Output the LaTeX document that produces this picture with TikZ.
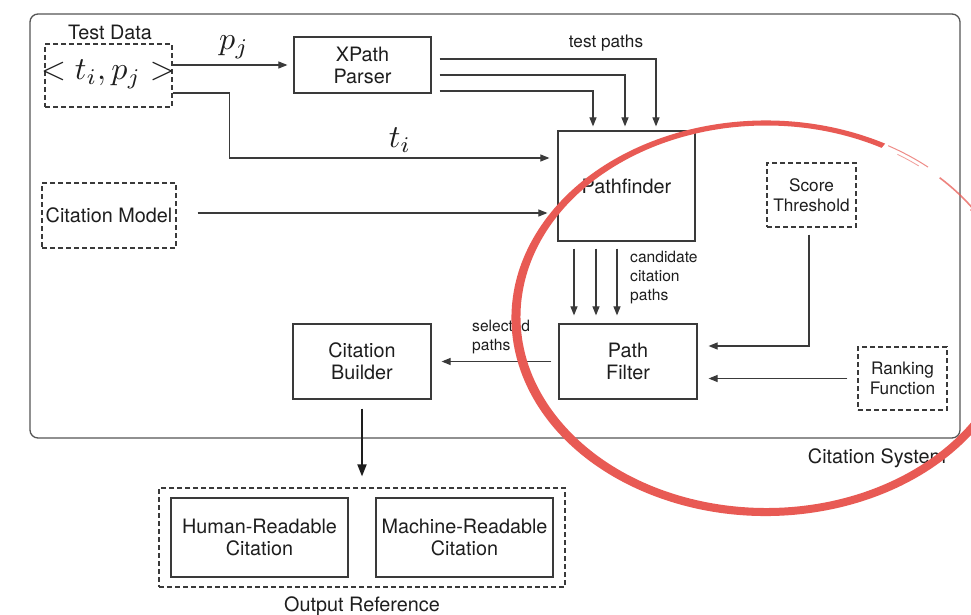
\documentclass[tikz,border=0pt]{standalone}
\usepackage{fontspec}
\usepackage{graphicx}
\setmainfont{TeX Gyre Heros}
\usetikzlibrary{arrows.meta,calc}

\definecolor{ink}{HTML}{1E1E1E}
\definecolor{edge}{HTML}{3A3A3A}
\definecolor{frame}{HTML}{555555}
\definecolor{brush}{RGB}{232,90,84}

\newcommand\fsmain{\fontsize{19.8}{22}\selectfont}
\newcommand\fsmid{\fontsize{17.2}{20}\selectfont}
\newcommand\fssmall{\fontsize{15.6}{19}\selectfont}
% math set at 10pt and enlarged, so the size does not depend on the node font
\newcommand\bigmath[1]{{\fontsize{10}{12}\selectfont\scalebox{3.2}{$#1$}}}

\begin{document}
\begin{tikzpicture}[x=1pt,y=-1pt,
  every node/.style={text=ink, inner sep=0pt},
  box/.style={draw=edge, line width=1.2pt, align=center, font=\fsmain},
  dashbox/.style={box, dash pattern=on 5pt off 3pt},
  smallbox/.style={dashbox, font=\fsmid},
  conn/.style={draw=edge, line width=1.1pt},
  arr/.style={conn, -{Triangle[length=9pt,width=7pt]}},
  bigarr/.style={draw=ink, line width=1.8pt, -{Triangle[length=12pt,width=9pt]}}]

\fill[white] (0,0) rectangle (971,615);
\useasboundingbox (0,0) rectangle (971,615);
\clip (0,0) rectangle (971,615);

% enclosing system frame
\node[draw=frame, line width=1.3pt, rounded corners=8pt,
      minimum width=930pt, minimum height=424pt] (sys) at (495,226) {};
\node[font=\fsmain] (syslbl) at (877,458) {Citation System};

% inputs
\node[font=\fsmain] (testlbl) at (110,32) {Test Data};
\node[dashbox, minimum width=127pt, minimum height=63pt] (testdata) at (108.5,75.5) {};
\node (tuple) at (108,74) {\bigmath{<t_i,p_j>}};
\node[dashbox, minimum width=134pt, minimum height=65pt] (citemodel) at (109,215.5) {Citation Model};
\node[smallbox, minimum width=89pt, minimum height=64pt] (score) at (811.5,195) {Score\\Threshold};
\node[smallbox, minimum width=89pt, minimum height=63pt] (ranking) at (902.5,378.5) {Ranking\\Function};

% processing blocks
\node[box, minimum width=137pt, minimum height=56pt] (xpath) at (362.5,65) {XPath\\Parser};
\node[box, minimum width=137pt, minimum height=110pt] (pathfinder) at (626.5,186) {Pathfinder};
\node[box, minimum width=138pt, minimum height=75pt] (pathfilter) at (628,361.5) {Path\\Filter};
\node[box, minimum width=138pt, minimum height=75pt] (builder) at (362,361.5) {Citation\\Builder};

% output
\node[dashbox, minimum width=406pt, minimum height=99pt] (outref) at (362,537.5) {};
\node[box, minimum width=177pt, minimum height=79pt] (human) at (259.5,537.5) {Human-Readable\\Citation};
\node[box, minimum width=177pt, minimum height=79pt] (machine) at (464.5,537.5) {Machine-Readable\\Citation};
\node[font=\fsmain] (outlbl) at (362,606) {Output Reference};

% connectors
\draw[arr, shorten >=6pt] (testdata.east |- xpath.west) -- (xpath.west);
\node (pjlbl) at (234,47) {\bigmath{p_j}};

\draw[arr, shorten >=8pt] ([yshift=-17.5pt]testdata.east) -- ++(57,0)
      |- ([yshift=28pt]pathfinder.west);
\node (tilbl) at (400,140) {\bigmath{t_i}};

\draw[arr, shorten <=21pt, shorten >=10pt] (citemodel.east |- 0,213) -- (pathfinder.west |- 0,213);

\draw[arr, shorten <=8pt, shorten >=4pt] ([yshift=6pt]xpath.east) -| ([xshift=29.5pt]pathfinder.north);
\draw[arr, shorten <=8pt, shorten >=4pt] ([yshift=-10pt]xpath.east) -| ([xshift=-1.5pt]pathfinder.north);
\draw[arr, shorten <=8pt, shorten >=4pt] ([yshift=-26pt]xpath.east) -| ([xshift=-33.5pt]pathfinder.north);
\node[font=\fsmid] (tplbl) at (606,43) {test paths};

\foreach \dx in {-52.5,-30.5,-9.5}
  \draw[arr, shorten <=7pt, shorten >=8pt] ([xshift=\dx pt]pathfinder.south) -- ([xshift=\dx pt]pathfinder.south |- pathfilter.north);
\node[font=\fssmall, align=left, anchor=west] (candlbl) at (630,278) {candidate\\citation\\paths};

\draw[arr, shorten <=7pt, shorten >=11pt] ([xshift=-2.5pt]score.south) |- ([yshift=15.5pt]pathfilter.east);
\draw[arr, shorten <=10pt, shorten >=11pt] (ranking.west) -- (ranking.west -| pathfilter.east);

\draw[arr, shorten <=7pt, shorten >=10pt] (pathfilter.west) -- (builder.east);
\node[font=\fssmall, align=left, anchor=west] (sellbl) at (472,337.5) {selected\\paths};

\draw[bigarr, shorten <=9pt, shorten >=11pt] (builder.south) -- (outref.north);

% red hand-drawn ring over the filtering stage
\fill[brush]
  ([shift={(62:254.25pt and 197.75pt)}]765.75,318.25)
  arc[start angle=62, end angle=394, x radius=254.25pt, y radius=197.75pt]
  -- ([shift={(34:245.75pt and 191.25pt)}]766.25,316.75)
  arc[start angle=394, end angle=62, x radius=245.75pt, y radius=191.25pt]
  -- cycle;
\draw[brush, line width=1pt, opacity=0.7]
  ([shift={(61:252pt and 197pt)}]766,318)
  arc[start angle=61, end angle=50, x radius=252pt, y radius=197pt];
\draw[brush, line width=0.8pt, opacity=0.6]
  ([shift={(58:248pt and 193pt)}]766,318)
  arc[start angle=58, end angle=52, x radius=248pt, y radius=193pt];
\draw[brush, line width=1.6pt, opacity=0.75]
  ([shift={(46:250pt and 195pt)}]766,318)
  arc[start angle=46, end angle=34, x radius=250pt, y radius=195pt];
\end{tikzpicture}
\end{document}
